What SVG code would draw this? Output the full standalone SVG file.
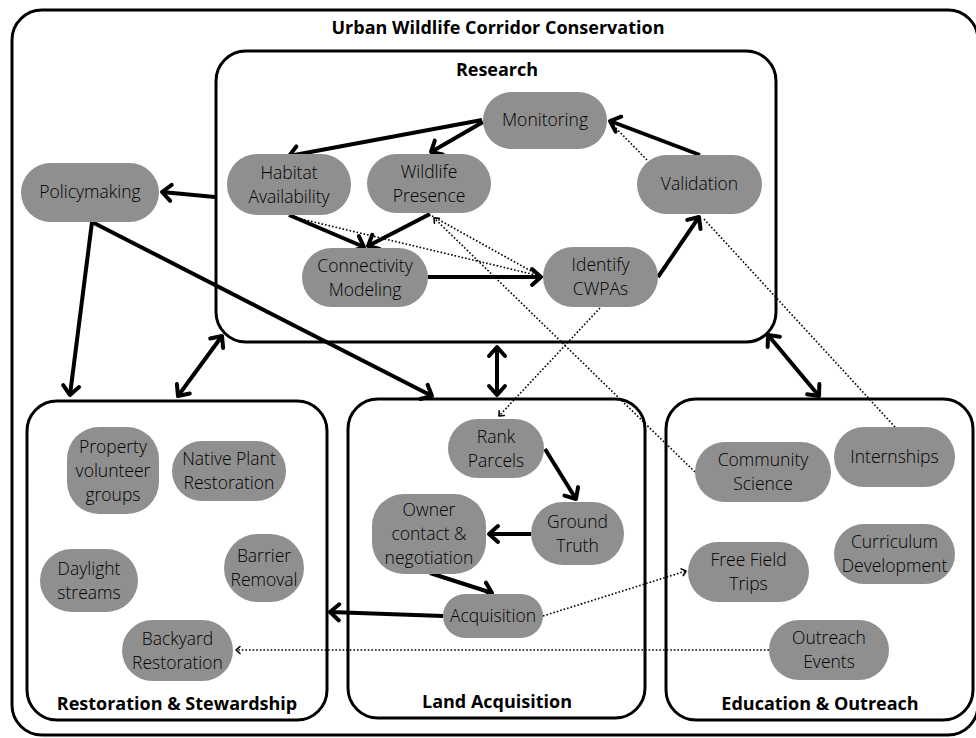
<svg xmlns="http://www.w3.org/2000/svg" width="976" height="738" viewBox="0 0 976 738">
<style>
.box{fill:none;stroke:#000;stroke-width:3}
.node rect{fill:#8f8f8f}
.node text{font-family:"Open Sans","Liberation Sans",sans-serif;font-weight:300;font-size:17.5px;fill:#000;text-anchor:middle}
.title{font-family:"Open Sans","Liberation Sans",sans-serif;font-weight:700;font-size:18px;fill:#000;text-anchor:middle}
.thick{fill:none;stroke:#000;stroke-width:4;marker-end:url(#ah)}
.dbl{fill:none;stroke:#000;stroke-width:4;marker-end:url(#ah);marker-start:url(#ah)}
.dot{fill:none;stroke:#000;stroke-width:1.6;stroke-dasharray:1.6 2}
.dota{fill:none;stroke:#000;stroke-width:1.6;stroke-dasharray:1.6 2;marker-end:url(#sa)}
</style>
<defs>
<marker id="ah" markerUnits="userSpaceOnUse" markerWidth="24" markerHeight="24" viewBox="0 0 24 24" refX="12" refY="12" orient="auto-start-reverse">
<path d="M3,4 L12,12 L3,20" fill="none" stroke="#000" stroke-width="4" stroke-linecap="round" stroke-linejoin="round"/>
</marker>
<marker id="sa" markerUnits="userSpaceOnUse" markerWidth="12" markerHeight="12" viewBox="0 0 12 12" refX="6" refY="6" orient="auto">
<path d="M2,2.5 L6,6 L2,9.5" fill="none" stroke="#000" stroke-width="1.6" stroke-linecap="round" stroke-linejoin="round"/>
</marker>
</defs>
<rect width="976" height="738" fill="#fff"/>

<g id="frames">
<rect class="box" x="12" y="10" width="966" height="725" rx="30"/>
<text class="title" x="498" y="34">Urban Wildlife Corridor Conservation</text>
<rect class="box" x="216" y="51" width="560" height="291" rx="30"/>
<text class="title" x="497" y="76">Research</text>
<rect class="box" x="27" y="401" width="300" height="319" rx="30"/>
<text class="title" x="177" y="710">Restoration &amp; Stewardship</text>
<rect class="box" x="348" y="399" width="297" height="319" rx="30"/>
<text class="title" x="497" y="708">Land Acquisition</text>
<rect class="box" x="666" y="399" width="307" height="321" rx="30"/>
<text class="title" x="820" y="710">Education &amp; Outreach</text>
</g>

<g id="connectors">
<path class="dot" d="M297,218 L540,276"/>
<path class="dot" d="M432,216 L540,276"/>
<path class="dota" d="M695,472 L434,218"/>
<path class="dota" d="M600,308 L499,416"/>
<path class="dot" d="M895,427 L703,218"/>
<path class="dot" d="M647,160 L610,122"/>
<path class="dota" d="M543,616 L686,571"/>
<path class="dota" d="M769,650 L236,650"/>
<path class="thick" d="M482,120 L289,156"/>
<path class="thick" d="M483,122 L431,152"/>
<path class="thick" d="M700,155 L610,121"/>
<path class="thick" d="M658,277 L699,217"/>
<path class="thick" d="M289,215 L364,247"/>
<path class="thick" d="M430,214 L368,246"/>
<path class="thick" d="M428,277 L541,277"/>
<path class="thick" d="M215,197 L162,192"/>
<path class="thick" d="M92,222 L70,395"/>
<path class="thick" d="M92,222 L432,396"/>
<path class="dbl" d="M222,336 L178,396"/>
<path class="dbl" d="M497,347 L497,395"/>
<path class="dbl" d="M768,335 L819,396"/>
<path class="thick" d="M545,449 L576,499"/>
<path class="thick" d="M531,534 L489,534"/>
<path class="thick" d="M430,573 L492,593"/>
<path class="thick" d="M443,616 L330,612"/>
</g>

<g id="monitoring" class="node"><rect x="483" y="92" width="124" height="57" rx="28.5"/><text x="545" y="126">Monitoring</text></g>
<g id="habitat" class="node"><rect x="227" y="154" width="124" height="61" rx="30"/><text x="289" y="179">Habitat</text><text x="289" y="203">Availability</text></g>
<g id="wildlife" class="node"><rect x="367" y="154" width="124" height="59" rx="29.5"/><text x="429" y="178">Wildlife</text><text x="429" y="202">Presence</text></g>
<g id="connectivity" class="node"><rect x="302" y="248" width="126" height="59" rx="29.5"/><text x="365" y="272">Connectivity</text><text x="365" y="296">Modeling</text></g>
<g id="identify" class="node"><rect x="543" y="247" width="115" height="60" rx="30"/><text x="600.5" y="271">Identify</text><text x="600.5" y="295">CWPAs</text></g>
<g id="validation" class="node"><rect x="637" y="155" width="125" height="59" rx="29.5"/><text x="699.5" y="190">Validation</text></g>
<g id="policymaking" class="node"><rect x="21" y="163" width="138" height="59" rx="29.5"/><text x="90" y="198">Policymaking</text></g>

<g id="property" class="node"><rect x="67" y="427" width="92" height="87" rx="32"/><text x="113" y="453">Property</text><text x="113" y="477">volunteer</text><text x="113" y="501">groups</text></g>
<g id="native" class="node"><rect x="172" y="441" width="114" height="60" rx="30"/><text x="229" y="465">Native Plant</text><text x="229" y="489">Restoration</text></g>
<g id="daylight" class="node"><rect x="40" y="549" width="98" height="63" rx="31.5"/><text x="89" y="575">Daylight</text><text x="89" y="599">streams</text></g>
<g id="barrier" class="node"><rect x="224" y="534" width="80" height="68" rx="34"/><text x="264" y="562">Barrier</text><text x="264" y="586">Removal</text></g>
<g id="backyard" class="node"><rect x="122" y="620" width="111" height="61" rx="30.5"/><text x="177.5" y="645">Backyard</text><text x="177.5" y="669">Restoration</text></g>

<g id="rank" class="node"><rect x="448" y="419" width="96" height="59" rx="29.5"/><text x="496" y="443">Rank</text><text x="496" y="467">Parcels</text></g>
<g id="ground" class="node"><rect x="531" y="502" width="93" height="63" rx="31.5"/><text x="577.5" y="528">Ground</text><text x="577.5" y="552">Truth</text></g>
<g id="owner" class="node"><rect x="372" y="494" width="114" height="80" rx="32"/><text x="429" y="516">Owner</text><text x="429" y="540">contact &amp;</text><text x="429" y="564">negotiation</text></g>
<g id="acquisition" class="node"><rect x="443" y="594" width="100" height="44" rx="22"/><text x="493" y="622">Acquisition</text></g>

<g id="community" class="node"><rect x="695" y="442" width="136" height="60" rx="30"/><text x="763" y="466">Community</text><text x="763" y="490">Science</text></g>
<g id="internships" class="node"><rect x="834" y="427" width="121" height="60" rx="30"/><text x="894.5" y="463">Internships</text></g>
<g id="curriculum" class="node"><rect x="834" y="524" width="121" height="60" rx="30"/><text x="894.5" y="548">Curriculum</text><text x="894.5" y="572">Development</text></g>
<g id="fieldtrips" class="node"><rect x="688" y="542" width="121" height="60" rx="30"/><text x="748.5" y="566">Free Field</text><text x="748.5" y="590">Trips</text></g>
<g id="outreach" class="node"><rect x="769" y="620" width="120" height="60" rx="30"/><text x="829" y="644">Outreach</text><text x="829" y="668">Events</text></g>
</svg>
